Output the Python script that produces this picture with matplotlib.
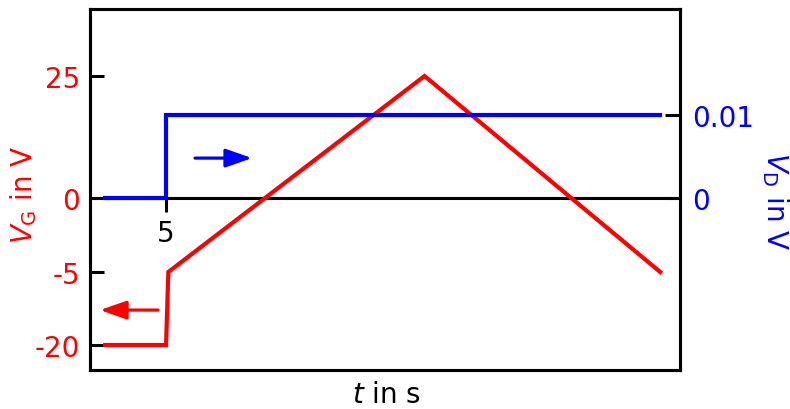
import numpy as np
import matplotlib
matplotlib.use("Agg")
import matplotlib.pyplot as plt

# gate voltage V_G (left axis) and drain voltage V_D (right axis) versus time
t_gate = [1, 5, 5.15, 22, 37.5]
v_gate = [-20, -20, -5, 25, -5]
t_drain = [1, 5, 5, 37.5]
v_drain = [0, 0, 0.01, 0.01]

gate_ticks = [-20, -5, 0, 25]
gate_labels = ["-20", "-5", "0", "25"]
drain_ticks = [0, 0.01]
drain_labels = ["0", "0.01"]
t_mark = 5

RED = "#ff0000"
BLUE = "#0000ff"
LW = 2.2

plt.rcParams["font.family"] = ["DejaVu Sans"]
plt.rcParams["mathtext.fontset"] = "dejavusans"

# piecewise linear (schematic) scale for the gate voltage
kv = [-60, -20, -5, 0, 25, 60]
kp = [-147 - 40 * 73 / 15, -147, -74, 0, 122, 122 + 35 * 122 / 25]


def fwd(v):
    return np.interp(v, kv, kp)


def inv(p):
    return np.interp(p, kp, kv)


W, H = 790, 410
fig = plt.figure(figsize=(W / 100, H / 100), dpi=100)
ax = fig.add_axes([90 / W, (H - 371) / H, 590 / W, 361 / H])
ax.set_yscale("function", functions=(fwd, inv))
ax.set_xlim(0, 38.8)
ax.set_ylim(-25.14, 38.73)

ax.axhline(0, color="k", lw=LW, zorder=1)
ax.plot(t_gate, v_gate, color=RED, lw=3.0, zorder=2, solid_joinstyle="miter")

# single tick on the zero line
ax.plot([t_mark], [0], marker=3, ms=10, mew=LW, color="k", zorder=3)
ax.annotate(str(t_mark), xy=(t_mark, 0), xytext=(0, -25), textcoords="offset points",
            ha="center", va="center", fontsize=20, color="k")

ax.set_xticks([])
ax.set_yticks(gate_ticks)
ax.set_yticklabels(gate_labels)
ax.yaxis.set_minor_locator(matplotlib.ticker.NullLocator())
ax.tick_params(axis="y", direction="in", length=10, width=LW, color="k",
               labelcolor=RED, labelsize=20, pad=7)
for s in ax.spines.values():
    s.set_linewidth(LW)

ax2 = ax.twinx()
ax2.set_ylim(-0.02072, 0.02277)
ax2.plot(t_drain, v_drain, color=BLUE, lw=3.0, solid_joinstyle="miter")
ax2.set_yticks(drain_ticks)
ax2.set_yticklabels(drain_labels)
ax2.tick_params(axis="y", direction="in", length=11, width=LW, color="k",
                labelcolor=BLUE, labelsize=20, pad=9)
for s in ax2.spines.values():
    s.set_linewidth(LW)

# direction arrows showing which axis each curve belongs to
arrow_style = "-|>,head_length=1.0,head_width=0.35"
ax.annotate("", xy=(0.017, 0.166), xytext=(0.1153, 0.166), xycoords="axes fraction",
            arrowprops=dict(arrowstyle=arrow_style, color=RED, lw=2.3,
                            shrinkA=0, shrinkB=0, mutation_scale=16))
ax.annotate("", xy=(0.2746, 0.587), xytext=(0.178, 0.587), xycoords="axes fraction",
            arrowprops=dict(arrowstyle=arrow_style, color=BLUE, lw=2.3,
                            shrinkA=0, shrinkB=0, mutation_scale=16))

fig.text(24 / W, 1 - 195 / H, r"$V_{\mathrm{G}}$ in V", color=RED, fontsize=20,
         rotation=90, ha="center", va="center")
fig.text(775 / W, 1 - 201 / H, r"$V_{\mathrm{D}}$ in V", color=BLUE, fontsize=20,
         rotation=270, ha="center", va="center")
fig.text(386 / W, 1 - 395 / H, r"$t$ in s", color="k", fontsize=20,
         ha="center", va="center")

fig.savefig("out.png", dpi=100)
